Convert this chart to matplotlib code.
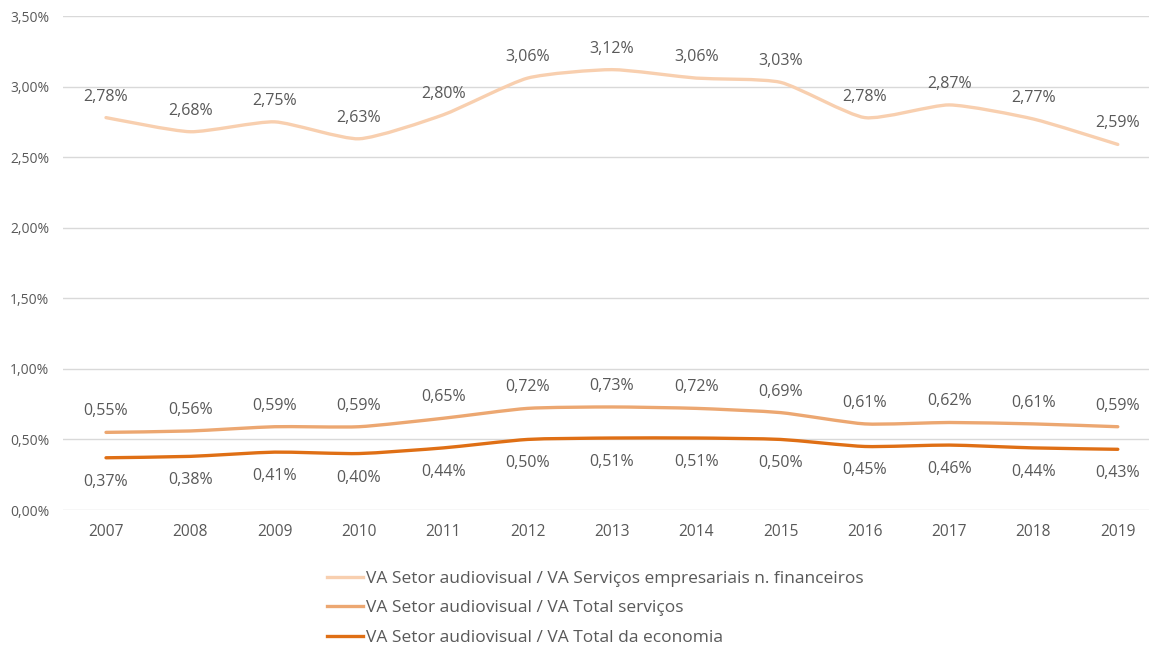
import matplotlib
matplotlib.use("Agg")
import matplotlib.pyplot as plt
from matplotlib.path import Path
from matplotlib.patches import PathPatch
from matplotlib.lines import Line2D
from matplotlib.ticker import FuncFormatter, MultipleLocator

plt.rcParams['font.family'] = ['Open Sans', 'DejaVu Sans']

years = ['2007', '2008', '2009', '2010', '2011', '2012', '2013',
         '2014', '2015', '2016', '2017', '2018', '2019']
serv_empresariais = [2.78, 2.68, 2.75, 2.63, 2.80, 3.06, 3.12, 3.06, 3.03, 2.78, 2.87, 2.77, 2.59]
total_servicos = [0.55, 0.56, 0.59, 0.59, 0.65, 0.72, 0.73, 0.72, 0.69, 0.61, 0.62, 0.61, 0.59]
total_economia = [0.37, 0.38, 0.41, 0.40, 0.44, 0.50, 0.51, 0.51, 0.50, 0.45, 0.46, 0.44, 0.43]

labels = ['VA Setor audiovisual / VA Serviços empresariais n. financeiros',
          'VA Setor audiovisual / VA Total serviços',
          'VA Setor audiovisual / VA Total da economia']
colors = ['#F8CFAF', '#ECA771', '#DF6F15']
text_color = '#595959'


def smooth_path(xs, ys, k=10.0):
    """Excel-like smoothed line: cubic Bezier segments through the data points."""
    pts = list(zip(xs, ys))
    n = len(pts)
    verts = [pts[0]]
    codes = [Path.MOVETO]
    for i in range(n - 1):
        p0 = pts[i - 1] if i > 0 else pts[i]
        p1 = pts[i]
        p2 = pts[i + 1]
        p3 = pts[i + 2] if i + 2 < n else pts[i + 1]
        c1 = (p1[0] + (p2[0] - p0[0]) / k, p1[1] + (p2[1] - p0[1]) / k)
        c2 = (p2[0] - (p3[0] - p1[0]) / k, p2[1] - (p3[1] - p1[1]) / k)
        verts += [c1, c2, p2]
        codes += [Path.CURVE4] * 3
    return Path(verts, codes)


W, H = 1149, 646
fig = plt.figure(figsize=(W / 100, H / 100), dpi=100)
ax = fig.add_axes([63 / W, 1 - 510 / H, (1149 - 63) / W, (510 - 16) / H])

x = list(range(len(years)))
series = [serv_empresariais, total_servicos, total_economia]
offsets = [21, 21, -24]
handles = []
for vals, lab, col, off in zip(series, labels, colors, offsets):
    patch = PathPatch(smooth_path(x, vals), facecolor='none', edgecolor=col,
                      lw=2.4, capstyle='round', joinstyle='round', zorder=3)
    ax.add_patch(patch)
    handles.append(Line2D([], [], color=col, lw=2.4, label=lab))
    for xi, v in zip(x, vals):
        ax.annotate(f"{v:.2f}%".replace('.', ','), (xi, v), xytext=(0, off),
                    textcoords='offset pixels',
                    ha='center', va='center', fontsize=11.5, color=text_color)

ax.set_ylim(0, 3.5)
ax.set_xlim(-0.51, 12.37)
ax.yaxis.set_major_locator(MultipleLocator(0.5))
ax.yaxis.set_major_formatter(FuncFormatter(lambda v, p: f"{v:.2f}%".replace('.', ',')))
ax.set_xticks(x)
ax.set_xticklabels(years)
ax.grid(axis='y', color='#D9D9D9', lw=1)
ax.set_axisbelow(True)
for s in ax.spines.values():
    s.set_visible(False)
ax.tick_params(axis='both', length=0, colors=text_color)
ax.tick_params(axis='y', labelsize=10, pad=10)
ax.tick_params(axis='x', labelsize=11.2, pad=10)

leg = fig.legend(handles=handles, loc='upper left', bbox_to_anchor=(327 / W, 1 - 571 / H),
                 frameon=False, fontsize=12.5, handlelength=2.1, handletextpad=0.17,
                 labelspacing=0.76, borderpad=0, borderaxespad=0)
for t in leg.get_texts():
    t.set_color(text_color)

fig.savefig('out.png', dpi=100)
